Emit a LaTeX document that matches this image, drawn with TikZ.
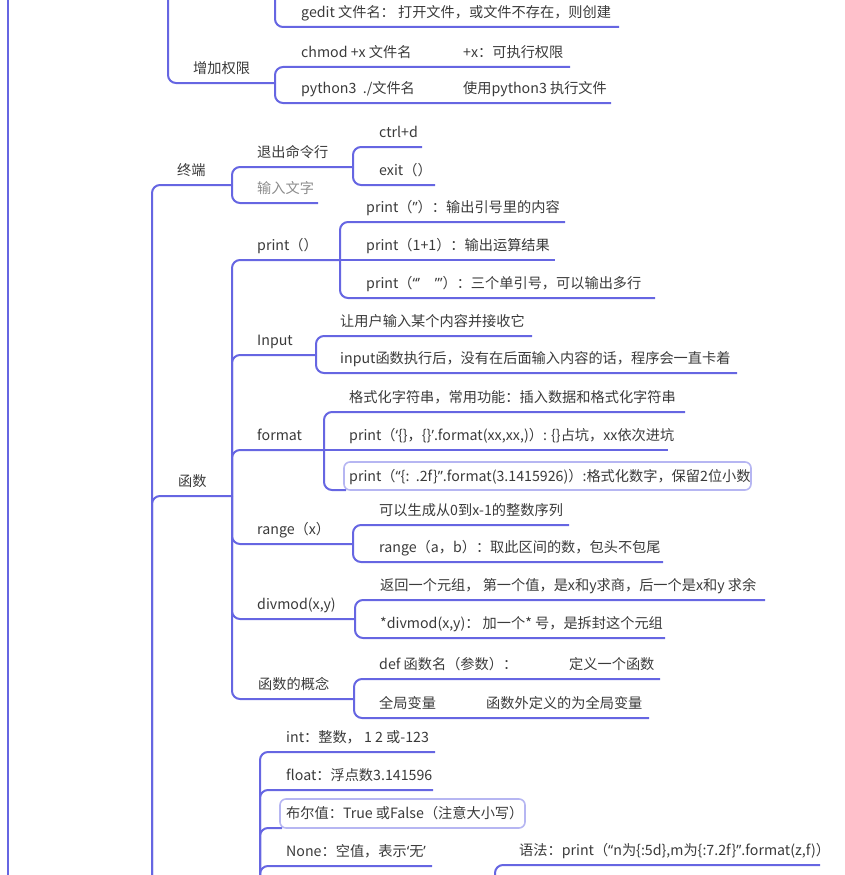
\documentclass[tikz,border=0pt]{standalone}
\usepackage{fontspec}
\setmainfont{Noto Sans CJK SC}
\newfontfamily\qfont{Noto Sans}
\newcommand\qq[1]{{\qfont #1}}
\definecolor{mmblue}{RGB}{102,102,226}
\definecolor{mmbox}{RGB}{182,182,242}
\definecolor{mmtext}{RGB}{58,58,58}
\definecolor{mmgrey}{RGB}{140,140,140}
\begin{document}
\begin{tikzpicture}[x=1pt,y=-1pt,
  mmline/.style={draw=mmblue,line width=2pt,rounded corners=8pt},
  lbl/.style={anchor=base west,inner sep=0pt,text=mmtext,font=\fontsize{14.2}{16}\selectfont},
  boxed/.style={draw=mmbox,line width=1.6pt,rounded corners=6pt}]
\useasboundingbox (0,0) rectangle (845,875);
\clip (0,0) rectangle (845,875);

% ---------- connectors ----------
\draw[mmline] (8,-20) -- (8,895);
% upper part
\draw[mmline] (275,-20) |- (619,27);
\draw[mmline] (168,-20) |- (275,83);
\draw[mmline] (275,83) |- (570,67);
\draw[mmline] (275,83) |- (611,103);
% terminal
\draw[mmline] (152,895) |- (232,185);
\draw[mmline] (232,185) |- (353,167);
\draw[mmline] (232,185) |- (318,203);
\draw[mmline] (353,167) |- (422,147);
\draw[mmline] (353,167) |- (435,185);
% functions
\draw[mmline] (152,895) |- (232,496);
\draw[mmline] (232,496) |- (340,260);
\draw[mmline] (232,496) |- (316,355);
\draw[mmline] (232,496) |- (324,450);
\draw[mmline] (232,496) |- (353,544);
\draw[mmline] (232,496) |- (355,619);
\draw[mmline] (232,496) |- (354,699);
% print
\draw[mmline] (340,260) |- (565,222);
\draw[mmline] (340,260) -- (555,260);
\draw[mmline] (340,260) |- (655,298);
% input
\draw[mmline] (316,355) |- (532,336);
\draw[mmline] (316,355) |- (737,373);
% format
\draw[mmline] (324,450) |- (685,412);
\draw[mmline] (324,450) -- (668,450);
\draw[mmline] (324,450) |- (346,490);
% range
\draw[mmline] (353,544) |- (569,525);
\draw[mmline] (353,544) |- (663,562);
% divmod
\draw[mmline] (355,619) |- (765,600);
\draw[mmline] (355,619) |- (665,638);
% concept
\draw[mmline] (354,699) |- (660,679);
\draw[mmline] (354,699) |- (649,718);
% data types
\draw[mmline] (260,895) |- (435,752);
\draw[mmline] (260,895) |- (433,790);
\draw[mmline] (260,895) |- (282,828);
\draw[mmline] (260,895) |- (432,866);
\draw[mmline] (495,895) |- (820,865);

% boxed topics
\draw[boxed] (344,462) rectangle (751,490);
\draw[boxed] (280,799) rectangle (525,828);

% ---------- labels ----------
\node[lbl] (gedit) at (301,17.5) {gedit 文件名： 打开文件，或文件不存在，则创建};
\node[lbl] (chmod) at (301,57.5) {chmod +x 文件名};
\node[lbl] (chmodb) at (463,57.5) {+x：可执行权限};
\node[lbl] (py) at (301,93.5) {python3\ \ ./文件名};
\node[lbl] (pyb) at (463,93.5) {使用python3 执行文件};
\node[lbl] (perm) at (193,73.5) {增加权限};

\node[lbl] (term) at (177,175.5) {终端};
\node[lbl] (quit) at (257,157.5) {退出命令行};
\node[lbl,text=mmgrey] (typ) at (257,193.5) {输入文字};
\node[lbl] (ctrl) at (379,137.5) {ctrl+d};
\node[lbl] (exit) at (379,175.5) {exit（）};

\node[lbl] (func) at (178,486.5) {函数};
\node[lbl] (print) at (257,250.5) {print（）};
\node[lbl] (pa) at (366,212.5) {print（\qq{”}）：输出引号里的内容};
\node[lbl] (pb) at (366,250.5) {print（1+1）：输出运算结果};
\node[lbl] (pc) at (366,288.5) {print（\qq{“’\ \ \ \ ”’}）：三个单引号，可以输出多行};

\node[lbl] (input) at (257,345.5) {Input};
\node[lbl] (ia) at (340,326.5) {让用户输入某个内容并接收它};
\node[lbl] (ib) at (340,363.5) {input函数执行后，没有在后面输入内容的话，程序会一直卡着};

\node[lbl] (format) at (257,440.5) {format};
\node[lbl] (fa) at (349,402.5) {格式化字符串，常用功能：插入数据和格式化字符串};
\node[lbl] (fb) at (349,440.5) {print（\qq{‘}\{\}，\{\}\qq{’}.format(xx,xx,)）: \{\}占坑，xx依次进坑};
\node[lbl] (fc) at (349,481) {print（\qq{“}\{:\ \ .2f\}\qq{”}.format(3.1415926)）:格式化数字，保留2位小数};

\node[lbl] (range) at (257,534.5) {range（x）};
\node[lbl] (ra) at (379,515.5) {可以生成从0到x-1的整数序列};
\node[lbl] (rb) at (379,552.5) {range（a，b）：取此区间的数，包头不包尾};

\node[lbl] (divmod) at (257,609.5) {divmod(x,y)};
\node[lbl] (da) at (380,590.5) {返回一个元组， 第一个值，是x和y求商，后一个是x和y 求余};
\node[lbl] (db) at (380,628.5) {*divmod(x,y)： 加一个* 号，是拆封这个元组};

\node[lbl] (concept) at (258,689.5) {函数的概念};
\node[lbl] (ca) at (379,669.5) {def 函数名（参数）：};
\node[lbl] (cab) at (569,669.5) {定义一个函数};
\node[lbl] (cb) at (379,708.5) {全局变量};
\node[lbl] (cbb) at (486,708.5) {函数外定义的为全局变量};

\node[lbl] (int) at (286,742.5) {int：整数， 1 2 或-123};
\node[lbl] (float) at (286,780.5) {float：浮点数3.141596};
\node[lbl] (bool) at (286,818.5) {布尔值：True 或False（注意大小写）};
\node[lbl] (none) at (286,856.5) {None：空值，表示\qq{‘}无\qq{’}};
\node[lbl] (syn) at (519,855.5) {语法：print（\qq{“}n为\{:5d\},m为\{:7.2f\}\qq{”}.format(z,f)）};
\end{tikzpicture}
\end{document}
